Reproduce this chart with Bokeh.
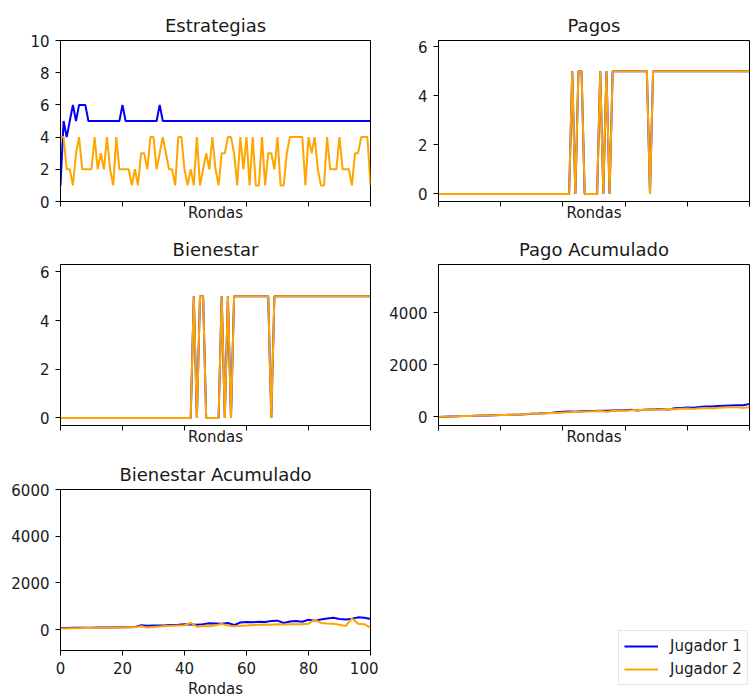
from bokeh.plotting import figure
from bokeh.layouts import column, row
from bokeh.models import Legend, LegendItem, FixedTicker, Range1d
from bokeh.embed import file_html
from bokeh.resources import INLINE

rondas = list(range(101))

estrategia_j1 = [1, 5, 4, 5, 6, 5, 6, 6, 6, 5,
                 5, 5, 5, 5, 5, 5, 5, 5, 5, 5,
                 6, 5, 5, 5, 5, 5, 5, 5, 5, 5,
                 5, 5, 6, 5, 5, 5, 5, 5, 5, 5,
                 5, 5, 5, 5, 5, 5, 5, 5, 5, 5,
                 5, 5, 5, 5, 5, 5, 5, 5, 5, 5,
                 5, 5, 5, 5, 5, 5, 5, 5, 5, 5,
                 5, 5, 5, 5, 5, 5, 5, 5, 5, 5,
                 5, 5, 5, 5, 5, 5, 5, 5, 5, 5,
                 5, 5, 5, 5, 5, 5, 5, 5, 5, 5,
                 5]
estrategia_j2 = [4, 4, 2, 2, 1, 3, 4, 2, 2, 2,
                 2, 4, 2, 3, 2, 4, 2, 1, 4, 2,
                 2, 2, 2, 1, 2, 1, 3, 3, 2, 4,
                 4, 2, 3, 4, 3, 2, 2, 1, 4, 4,
                 2, 1, 2, 1, 4, 1, 2, 3, 2, 4,
                 2, 1, 3, 3, 4, 4, 3, 1, 4, 2,
                 4, 1, 4, 1, 1, 4, 1, 3, 3, 2,
                 4, 1, 1, 3, 4, 4, 4, 4, 4, 1,
                 4, 3, 4, 2, 1, 1, 4, 2, 2, 2,
                 4, 2, 2, 2, 1, 3, 3, 4, 4, 4,
                 1]

pago_j1 = [0, 0, 0, 0, 0, 0, 0, 0, 0, 0,
           0, 0, 0, 0, 0, 0, 0, 0, 0, 0,
           0, 0, 0, 0, 0, 0, 0, 0, 0, 0,
           0, 0, 0, 0, 0, 0, 0, 0, 0, 0,
           0, 0, 0, 5, 0, 5, 5, 0, 0, 0,
           0, 0, 5, 0, 5, 0, 5, 5, 5, 5,
           5, 5, 5, 5, 5, 5, 5, 5, 0, 5,
           5, 5, 5, 5, 5, 5, 5, 5, 5, 5,
           5, 5, 5, 5, 5, 5, 5, 5, 5, 5,
           5, 5, 5, 5, 5, 5, 5, 5, 5, 5,
           5]
pago_j2 = list(pago_j1)
bienestar_j1 = list(pago_j1)
bienestar_j2 = list(pago_j1)

rondas_acum = list(range(0, 101, 2))
pago_acum_j1 = [0, 8, 15, 22, 30, 38, 45, 52, 58, 65,
                72, 78, 85, 92, 105, 118, 128, 140, 150, 175,
                195, 205, 200, 215, 225, 230, 240, 235, 250, 260,
                255, 270, 250, 275, 285, 290, 300, 285, 330, 345,
                360, 350, 380, 395, 400, 420, 430, 440, 450, 445,
                500]
pago_acum_j2 = [0, 8, 15, 22, 30, 38, 45, 50, 58, 64,
                70, 75, 80, 90, 110, 120, 125, 140, 150, 150,
                165, 180, 190, 200, 210, 220, 225, 200, 230, 245,
                240, 260, 270, 265, 280, 270, 290, 300, 290, 310,
                320, 300, 330, 340, 320, 350, 360, 370, 375, 340,
                380]
bienestar_acum_j1 = [60, 65, 70, 70, 75, 80, 85, 85, 90, 95,
                     100, 100, 110, 180, 160, 170, 175, 180, 190, 200,
                     220, 215, 200, 230, 270, 260, 250, 280, 190, 300,
                     320, 310, 330, 320, 360, 380, 280, 340, 360, 330,
                     420, 380, 430, 470, 500, 450, 430, 460, 520, 500,
                     450]
bienestar_acum_j2 = [40, 45, 50, 55, 60, 65, 70, 75, 80, 85,
                     90, 100, 110, 140, 90, 110, 130, 150, 160, 170,
                     180, 280, 120, 150, 140, 180, 240, 170, 140, 160,
                     170, 190, 200, 210, 200, 220, 210, 230, 220, 230,
                     250, 420, 280, 260, 250, 200, 150, 480, 250, 230,
                     80]

x_ticks = [0, 20, 40, 60, 80, 100]
jugadores = ["Jugador 1", "Jugador 2"]
colores = ["#0000ff", "#ffa500"]

FONT = "DejaVu Sans"
TXT = "#1a1a1a"


def make_fig(title, width, height, bl, br, bt, bb, yr, yticks, show_xlabels):
    p = figure(width=width, height=height, x_range=Range1d(0, 100),
               y_range=Range1d(*yr), output_backend="svg",
               toolbar_location=None, min_border_left=bl,
               min_border_right=br, min_border_top=bt, min_border_bottom=bb)
    p.title.text = title
    p.title.align = "center"
    p.title.text_font = FONT
    p.title.text_font_size = "18px"
    p.title.text_font_style = "normal"
    p.title.text_color = TXT
    p.title.standoff = 10
    p.grid.visible = False
    p.outline_line_color = "#000000"
    p.outline_line_width = 1
    p.background_fill_color = "white"
    p.border_fill_color = "white"
    for ax in (p.xaxis[0], p.yaxis[0]):
        ax.major_tick_out = 5
        ax.major_tick_in = 0
        ax.minor_tick_line_color = None
        ax.axis_line_color = "#000000"
        ax.major_tick_line_color = "#000000"
        ax.major_label_text_font = FONT
        ax.major_label_text_font_size = "15px"
        ax.major_label_text_color = TXT
    p.yaxis.major_label_standoff = 6
    p.xaxis.major_label_standoff = 6
    p.xaxis.ticker = FixedTicker(ticks=x_ticks)
    p.yaxis.ticker = FixedTicker(ticks=yticks)
    p.xaxis.axis_label = "Rondas"
    p.xaxis.axis_label_text_font = FONT
    p.xaxis.axis_label_text_font_size = "15px"
    p.xaxis.axis_label_text_font_style = "normal"
    p.xaxis.axis_label_text_color = TXT
    p.xaxis.axis_label_standoff = 3
    if not show_xlabels:
        p.xaxis.major_label_overrides = {t: "" for t in x_ticks}
        p.xaxis.major_label_standoff = 0
        p.xaxis.axis_label_standoff = -3
    return p


def add_lines(p, xs, y1, y2):
    r1 = p.line(xs, y1, line_color=colores[0], line_width=2)
    r2 = p.line(xs, y2, line_color=colores[1], line_width=2)
    return r1, r2


f1 = make_fig("Estrategias", 378, 224, 60, 8, 40, 21, (0, 10), [0, 2, 4, 6, 8, 10], False)
add_lines(f1, rondas, estrategia_j1, estrategia_j2)
f2 = make_fig("Pagos", 372, 224, 60, 1, 40, 21, (-0.31, 6.25), [0, 2, 4, 6], False)
add_lines(f2, rondas, pago_j1, pago_j2)
f3 = make_fig("Bienestar", 378, 224, 60, 8, 40, 20, (-0.31, 6.3), [0, 2, 4, 6], False)
add_lines(f3, rondas, bienestar_j1, bienestar_j2)
f4 = make_fig("Pago Acumulado", 372, 224, 60, 1, 40, 20, (-330, 5850), [0, 2000, 4000], False)
add_lines(f4, rondas_acum, pago_acum_j1, pago_acum_j2)
f5 = make_fig("Bienestar Acumulado", 378, 252, 60, 8, 41, 48, (-900, 6000), [0, 2000, 4000, 6000], True)
add_lines(f5, rondas_acum, bienestar_acum_j1, bienestar_acum_j2)

# legend panel: its frame reaches further down than the neighbour's;
# the lines are drawn out of view so that only the legend shows
f6 = figure(width=372, height=287, x_range=Range1d(0, 100),
            y_range=Range1d(10000, 11000), output_backend="svg",
            toolbar_location=None, min_border_left=0, min_border_right=0,
            min_border_top=41, min_border_bottom=48)
f6.axis.visible = False
f6.grid.visible = False
f6.outline_line_color = None
f6.background_fill_color = "white"
f6.border_fill_color = "white"
g1, g2 = add_lines(f6, rondas_acum, bienestar_acum_j1, bienestar_acum_j2)

legend = Legend(items=[LegendItem(label=jugadores[0], renderers=[g1]),
                       LegendItem(label=jugadores[1], renderers=[g2])],
                location=(240, 0))
legend.label_text_font = FONT
legend.label_text_font_size = "15px"
legend.label_text_color = TXT
legend.border_line_color = "#cccccc"
legend.border_line_width = 1
legend.background_fill_color = "white"
legend.background_fill_alpha = 1
legend.glyph_width = 34
legend.glyph_height = 20
legend.label_height = 20
legend.label_standoff = 12
legend.padding = 5
legend.spacing = 3
legend.margin = 0
f6.add_layout(legend, "center")

layout = column(row(f1, f2), row(f3, f4), row(f5, f6))
open("out.html", "w").write(file_html(layout, INLINE))
